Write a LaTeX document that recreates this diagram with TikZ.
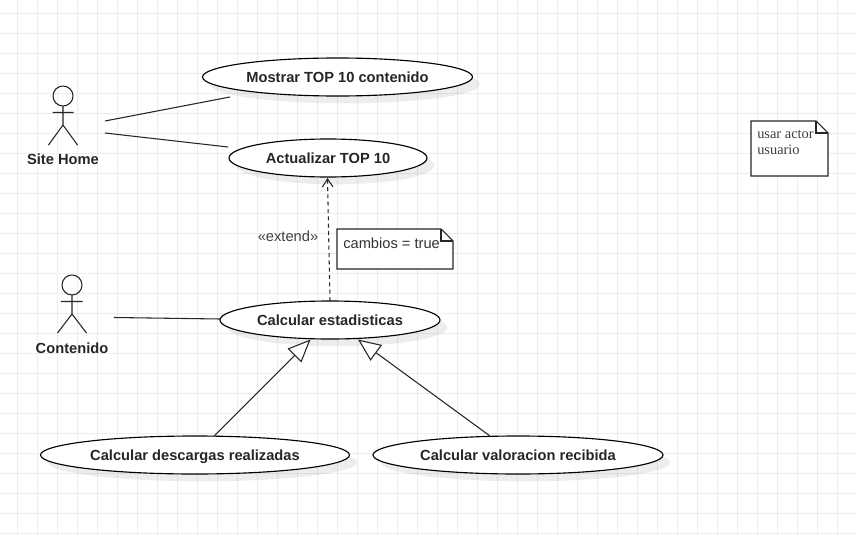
\documentclass[tikz,border=0pt]{standalone}
\usepackage{fontspec}
\setmainfont{Liberation Sans}
\newfontfamily\notefont{Liberation Serif}
\usetikzlibrary{arrows.meta,shadows,shapes.geometric}
\tikzset{
    usecase/.style={draw, ellipse, line width=0.85pt, fill=white, inner sep=0pt,
        drop shadow={shadow xshift=5.5pt, shadow yshift=-5.5pt, fill=black, opacity=0.07}},
    usetext/.style={font=\fontsize{11pt}{12pt}\selectfont\bfseries, text=black!85, text height=10pt, text depth=1.5pt},
    actorlabel/.style={font=\fontsize{11pt}{12pt}\selectfont\bfseries, text=black!85},
    assoc/.style={line width=0.8pt, black!85},
    notepath/.style={line width=0.8pt, black!85},
    generalize/.style={line width=0.8pt, black!85, -{Triangle[open, length=17pt, width=14.5pt, fill=white]}},
}
\begin{document}
\begin{tikzpicture}[x=0.75pt, y=-0.75pt]
    \useasboundingbox (0,0) rectangle (856,535);
    \fill[white] (0,0) rectangle (856,535);

    % Grid
    \foreach \i in {0,...,42} {
        \draw[black!7, line width=0.8pt] ({17.3+20*\i},0) -- ({17.3+20*\i},535);
    }
    \foreach \i in {0,...,26} {
        \draw[black!7, line width=0.8pt] (0,{13.3+20*\i}) -- (856,{13.3+20*\i});
    }

    % Casos de uso
    \node[usecase, minimum width=202.5pt, minimum height=28.5pt, usetext] (mostrar) at (337.5,77) {Mostrar TOP 10 contenido};
    \node[usecase, minimum width=148.5pt, minimum height=28.5pt, usetext] (actualizar) at (328,158) {Actualizar TOP 10};
    \node[usecase, minimum width=165pt, minimum height=28.5pt, usetext] (estadisticas) at (330,320) {Calcular estadisticas};
    \node[usecase, minimum width=231.75pt, minimum height=28.5pt, usetext] (descargas) at (195,455) {Calcular descargas realizadas};
    \node[usecase, minimum width=217.5pt, minimum height=28.5pt, usetext] (valoracion) at (518,455) {Calcular valoracion recibida};

    % Actores
    \draw[assoc] (63,96) circle (10);
    \draw[assoc] (63,106) -- (63,125) (52.5,112.5) -- (73.5,112.5) (48.5,145) -- (63,125) -- (77.5,145);
    \node[actorlabel] (sitehome) at (63,159.5) {Site Home};
    \draw[assoc] (72,285) circle (10);
    \draw[assoc] (72,295) -- (72,314) (61,301.5) -- (82.5,301.5) (57.5,333) -- (72,314) -- (86.5,333);
    \node[actorlabel] (contenido) at (72,348.5) {Contenido};

    % Asociaciones
    \coordinate (sitehomea) at (105,121);
    \coordinate (sitehomeb) at (105,133);
    \coordinate (contenidoa) at (114,317.5);
    \coordinate (mostrara) at (230,97);
    \coordinate (actualizara) at (228,147);
    \coordinate (estadisticasa) at (220,319);
    \draw[assoc] (sitehomea) -- (mostrara);
    \draw[assoc] (sitehomeb) -- (actualizara);
    \draw[assoc] (contenidoa) -- (estadisticasa);

    % Extend
    \coordinate (extendfrom) at (330,301);
    \coordinate (extendto) at (327.5,178);
    \draw[line width=0.8pt, black!85, dash pattern=on 3pt off 2.5pt, -{Straight Barb[length=6pt, width=8pt]}] (extendfrom) -- (extendto);
    \node[font=\fontsize{11pt}{12pt}\selectfont, text=black!75] (extend) at (288,236) {«extend»};

    % Generalizaciones
    \coordinate (descargasa) at (214,436);
    \coordinate (valoraciona) at (490,436);
    \coordinate (estadisticasb) at (310.5,339.5);
    \coordinate (estadisticasc) at (358,339.5);
    \draw[generalize] (descargasa) -- (estadisticasb);
    \draw[generalize] (valoraciona) -- (estadisticasc);

    % Notas
    \draw[notepath, fill=white] (337,229) -- (441,229) -- (453,241) -- (453,269) -- (337,269) -- cycle;
    \draw[notepath] (441,229) -- (441,241) -- (453,241);
    \node[anchor=west, inner sep=0pt, font=\fontsize{11pt}{12pt}\selectfont, text=black!80] (cambios) at (343,243) {cambios = true};
    \draw[notepath, fill=white] (751,121) -- (816,121) -- (828,133) -- (828,176) -- (751,176) -- cycle;
    \draw[notepath] (816,121) -- (816,133) -- (828,133);
    \node[anchor=north west, inner sep=0pt, align=left, font=\notefont\fontsize{10.8pt}{12pt}\selectfont, text=black!75] (usuario) at (757,130) {usar actor\\usuario};
\end{tikzpicture}
\end{document}
